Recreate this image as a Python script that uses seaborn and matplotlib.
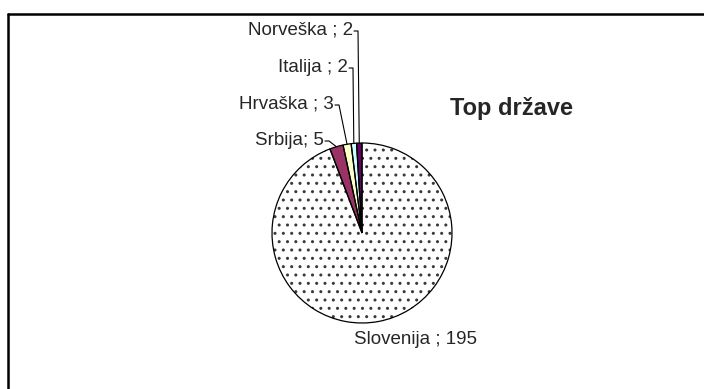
import matplotlib
matplotlib.use("Agg")
import matplotlib.pyplot as plt
import numpy as np
import seaborn as sns

# Country counts, in drawing order (clockwise from 12 o'clock)
countries = ["Slovenija", "Srbija", "Hrvaška", "Italija", "Norveška"]
counts = [195, 5, 3, 2, 2]
label_texts = ["Slovenija ; 195", "Srbija; 5", "Hrvaška ; 3", "Italija ; 2", "Norveška ; 2"]
slice_colors = ["#FFFFFF", "#993366", "#FFFFCC", "#CCFFFF", "#660066"]
slice_hatches = ["..", "", "", "", ""]
title_text = "Top države"

sns.set_style("white")
plt.rcParams["font.family"] = ["Liberation Sans", "DejaVu Sans"]
plt.rcParams["hatch.linewidth"] = 1.0

W, H = 704, 389
fig = plt.figure(figsize=(W / 100, H / 100), dpi=100)
ax = fig.add_axes([0, 0, 1, 1])

cx, cy, R = 362, H - 233, 90
start = 90

# Filled / hatched wedges
wedges, _ = ax.pie(counts, colors=slice_colors, startangle=start, counterclock=False,
                   center=(cx, cy), radius=R, frame=True,
                   wedgeprops=dict(edgecolor="#3a3a3a", linewidth=0))
for w, h in zip(wedges, slice_hatches):
    w.set_hatch(h)
# Outlines
ax.pie(counts, startangle=start, counterclock=False, center=(cx, cy), radius=R,
       frame=True, wedgeprops=dict(fill=False, edgecolor="black", linewidth=0.9))
ax.set_xlim(0, W)
ax.set_ylim(0, H)
ax.set_aspect("equal")
ax.axis("off")

# Label anchor positions (right end of text for small slices)
label_pos = {
    "Srbija": (324, H - 140),
    "Hrvaška": (334, H - 104),
    "Italija": (348, H - 67),
    "Norveška": (353, H - 30),
}
fs = 13.5
total = sum(counts)
angle = start
for name, val, txt in zip(countries, counts, label_texts):
    span = 360.0 * val / total
    mid = np.deg2rad(angle - span / 2)
    angle -= span
    ex, ey = cx + R * np.cos(mid), cy + R * np.sin(mid)
    if name == "Slovenija":
        ax.text(416, H - 340, txt, ha="center", va="center", fontsize=fs)
        continue
    lx, ly = label_pos[name]
    ax.text(lx, ly, txt, ha="right", va="center", fontsize=fs)
    ax.plot([lx + 1, lx + 5, ex], [ly - 1, ly - 1, ey], color="black", lw=0.8)

ax.text(511, H - 108, title_text, ha="center", va="center", fontsize=17,
        fontweight="bold")

# Chart area border (top and left edges)
ax.plot([8, W + 5], [H - 14, H - 14], color="black", lw=1.8, clip_on=False)
ax.plot([8, 8], [H - 14, -5], color="black", lw=1.8, clip_on=False)

fig.savefig("out.png", dpi=100)
